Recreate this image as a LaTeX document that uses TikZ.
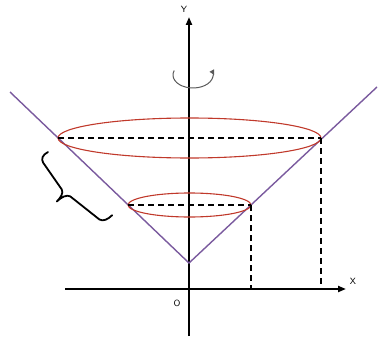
\documentclass[tikz,border=0pt]{standalone}
\usetikzlibrary{arrows.meta}
\definecolor{conecol}{HTML}{7A5A9E}
\definecolor{ellcol}{HTML}{C0392B}
\begin{document}
\begin{tikzpicture}[x=1pt,y=-1pt,
  axis/.style={line width=2pt,-{Triangle[length=8pt,width=6pt]}},
  coneline/.style={conecol,line width=1.4pt},
  ring/.style={ellcol,line width=1.1pt},
  guide/.style={black,line width=1.3pt,dash pattern=on 6pt off 4pt},
  bracestyle/.style={black,line width=1.8pt,line join=round,line cap=round},
  lbl/.style={font=\sffamily\small,inner sep=0pt}]
\useasboundingbox (0,0) rectangle (383,337);
% axes
\coordinate (xs) at (65,289);
\coordinate (xe) at (346,289);
\coordinate (ys) at (189,336);
\coordinate (ye) at (189,17);
\draw[axis] (xs) -- (xe);
\draw[axis] (ys) -- (ye);
\node[lbl] (ylab) at (184,9) {Y};
\node[lbl] (xlab) at (353,281) {X};
\node[lbl] (olab) at (177,303) {O};
% cone
\coordinate (v) at (189,263);
\coordinate (lt) at (10,92);
\coordinate (rt) at (377,87);
\draw[coneline] (lt) -- (v) -- (rt);
% ellipses
\coordinate (bl) at (58,138);
\coordinate (br) at (321,138);
\coordinate (sl) at (128,205);
\coordinate (sr) at (251,205);
\draw[ring] (189.5,138) ellipse [x radius=131.5, y radius=20];
\draw[ring] (189.5,205) ellipse [x radius=61.5, y radius=12];
% dashed guides
\coordinate (bx) at (321,289);
\coordinate (sx) at (251,289);
\draw[guide] (bl) -- (br);
\draw[guide] (sl) -- (sr);
\draw[guide] (br) -- (bx);
\draw[guide] (sr) -- (sx);
% brace (local frame: x along the cone line, y away from it)
\begin{scope}[shift={(48,152)},x={(0.713pt,-0.702pt)},y={(-0.702pt,-0.713pt)}]
\draw[bracestyle] (0,0) .. controls (-2,6) and (0,10) .. (4,11) -- (36,17)
  .. controls (40,18) and (41,24) .. (41,29)
  .. controls (41,23) and (43,17) .. (47,16) -- (84,12)
  .. controls (88,11) and (90,6) .. (90,0);
\end{scope}
% rotation arrow
\draw[gray!70!black,line width=1pt,-{Triangle[length=5pt,width=5pt,reversed]}]
  (193,75) ++(200:20 and 13) arc[start angle=200,end angle=-20,x radius=20,y radius=13];
\end{tikzpicture}
\end{document}
